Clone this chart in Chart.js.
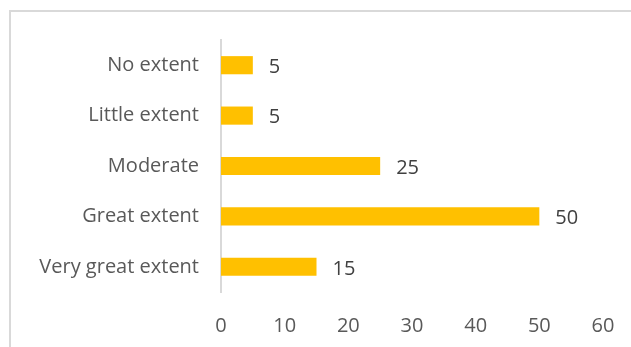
<!DOCTYPE html>
<html>
<head>
<meta charset="utf-8">
<script src="https://cdn.jsdelivr.net/npm/chart.js@4.4.0/dist/chart.umd.min.js"></script>
<style>
  html, body { margin: 0; padding: 0; background: #fff; overflow: hidden; }
  #wrap { position: relative; width: 631px; height: 347px; }
  #frame {
    position: absolute; left: 9px; top: 10px; width: 700px; height: 400px;
    border-left: 2px solid #d9d9d9; border-top: 2px solid #d9d9d9;
  }
  #chart { position: absolute; left: 0; top: 0; }
</style>
</head>
<body>
<div id="wrap">
  <div id="frame"></div>
  <canvas id="chart" width="631" height="347"></canvas>
</div>
<script>
  var categories = ['No extent', 'Little extent', 'Moderate', 'Great extent', 'Very great extent'];
  var values = [5, 5, 25, 50, 15];
  var xTicks = [0, 10, 20, 30, 40, 50, 60];

  var FONT = '"Open Sans", sans-serif';

  // value labels to the right of each bar
  var barLabels = {
    id: 'barLabels',
    afterDatasetsDraw: function (chart) {
      var ctx = chart.ctx;
      var meta = chart.getDatasetMeta(0);
      ctx.save();
      ctx.font = '20px ' + FONT;
      ctx.fillStyle = '#404040';
      ctx.textAlign = 'left';
      ctx.textBaseline = 'middle';
      meta.data.forEach(function (bar, i) {
        ctx.fillText(String(values[i]), bar.x + 16, bar.y + 2);
      });
      ctx.restore();
    }
  };

  new Chart(document.getElementById('chart'), {
    type: 'bar',
    data: {
      labels: categories,
      datasets: [{
        data: values,
        backgroundColor: '#FFC000',
        borderWidth: 0,
        barPercentage: 0.72,
        categoryPercentage: 0.5
      }]
    },
    plugins: [barLabels],
    options: {
      indexAxis: 'y',
      responsive: false,
      animation: false,
      layout: { padding: { left: 0, right: 28, top: 40, bottom: 0 } },
      plugins: { legend: { display: false }, tooltip: { enabled: false } },
      scales: {
        x: {
          min: 0,
          max: 60,
          afterBuildTicks: function (scale) {
            scale.ticks = xTicks.map(function (v) { return { value: v }; });
          },
          afterFit: function (scale) {
            scale.height = 55;
            scale.paddingLeft = 0;
            scale.paddingRight = 0;
          },
          grid: { display: false, drawTicks: false },
          border: { display: false },
          ticks: { color: '#595959', font: { family: FONT, size: 20 }, padding: 22 }
        },
        y: {
          afterFit: function (scale) { scale.width = 221; },
          grid: { display: false, drawTicks: false },
          border: { display: true, color: '#d9d9d9', width: 2 },
          ticks: { color: '#595959', font: { family: FONT, size: 20 }, padding: 22 }
        }
      }
    }
  });
</script>
</body>
</html>
